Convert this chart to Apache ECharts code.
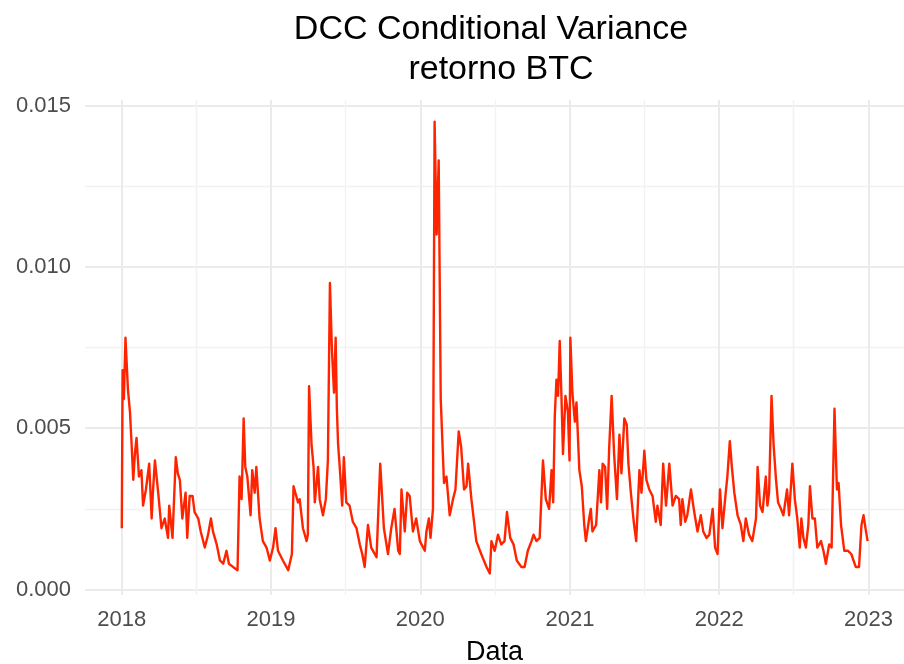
<!DOCTYPE html>
<html>
<head>
<meta charset="utf-8">
<title>DCC Conditional Variance - retorno BTC</title>
<script src="https://cdn.jsdelivr.net/npm/echarts@6/dist/echarts.min.js"></script>
<style>
  html, body { margin: 0; padding: 0; background: #ffffff; }
  #chart { width: 904px; height: 664px; }
</style>
</head>
<body>
<div id="chart"></div>
<script>
// Conditional variance of BTC returns from the DCC model
const dates = [
  '2018-01-01','2018-01-03','2018-01-06','2018-01-10','2018-01-13','2018-01-16','2018-01-21','2018-01-25','2018-01-29','2018-02-02',
  '2018-02-06','2018-02-12','2018-02-18','2018-02-22','2018-03-01','2018-03-09','2018-03-15','2018-03-18','2018-03-23','2018-03-31',
  '2018-04-08','2018-04-16','2018-04-24','2018-04-27','2018-05-05','2018-05-13','2018-05-18','2018-05-23','2018-05-29','2018-06-06',
  '2018-06-10','2018-06-16','2018-06-23','2018-06-28','2018-07-07','2018-07-13','2018-07-23','2018-07-31','2018-08-07','2018-08-12',
  '2018-08-21','2018-08-29','2018-09-06','2018-09-14','2018-09-20','2018-09-30','2018-10-11','2018-10-16','2018-10-21','2018-10-26',
  '2018-10-30','2018-11-04','2018-11-12','2018-11-16','2018-11-22','2018-11-26','2018-12-04','2018-12-12','2018-12-21','2018-12-29',
  '2019-01-06','2019-01-12','2019-01-18','2019-01-30','2019-02-12','2019-02-21','2019-02-25','2019-03-08','2019-03-12','2019-03-20',
  '2019-03-29','2019-04-01','2019-04-04','2019-04-10','2019-04-15','2019-04-18','2019-04-26','2019-04-30','2019-05-08','2019-05-15',
  '2019-05-20','2019-05-25','2019-05-30','2019-06-04','2019-06-08','2019-06-11','2019-06-14','2019-06-18','2019-06-24','2019-06-28',
  '2019-07-04','2019-07-12','2019-07-20','2019-07-29','2019-08-06','2019-08-12','2019-08-18','2019-08-26','2019-09-03','2019-09-16',
  '2019-09-25','2019-10-04','2019-10-14','2019-10-22','2019-10-30','2019-11-08','2019-11-12','2019-11-16','2019-11-24','2019-11-30',
  '2019-12-06','2019-12-14','2019-12-22','2019-12-31','2020-01-12','2020-01-16','2020-01-22','2020-01-26','2020-02-01','2020-02-05',
  '2020-02-10','2020-02-15','2020-02-20','2020-02-28','2020-03-05','2020-03-13','2020-03-21','2020-03-27','2020-04-04','2020-04-10',
  '2020-04-17','2020-04-23','2020-04-27','2020-05-05','2020-05-17','2020-05-29','2020-06-11','2020-06-19','2020-06-23','2020-07-01',
  '2020-07-09','2020-07-17','2020-07-25','2020-07-31','2020-08-08','2020-08-16','2020-08-24','2020-09-04','2020-09-12','2020-09-20',
  '2020-09-29','2020-10-04','2020-10-11','2020-10-19','2020-10-27','2020-11-03','2020-11-11','2020-11-17','2020-11-21','2020-11-25',
  '2020-11-29','2020-12-03','2020-12-07','2020-12-11','2020-12-15','2020-12-21','2020-12-27','2020-12-31','2021-01-02','2021-01-07',
  '2021-01-13','2021-01-17','2021-01-24','2021-01-30','2021-02-05','2021-02-09','2021-02-17','2021-02-21','2021-02-25','2021-03-06',
  '2021-03-14','2021-03-18','2021-03-22','2021-03-28','2021-04-02','2021-04-07','2021-04-13','2021-04-19','2021-04-26','2021-05-02',
  '2021-05-07','2021-05-14','2021-05-20','2021-05-24','2021-05-30','2021-06-06','2021-06-12','2021-06-20','2021-06-25','2021-07-02',
  '2021-07-07','2021-07-14','2021-07-22','2021-07-30','2021-08-03','2021-08-11','2021-08-17','2021-08-24','2021-09-01','2021-09-09',
  '2021-09-17','2021-09-25','2021-09-29','2021-10-03','2021-10-10','2021-10-15','2021-10-24','2021-11-01','2021-11-09','2021-11-17',
  '2021-11-23','2021-12-01','2021-12-08','2021-12-16','2021-12-22','2021-12-28','2022-01-03','2022-01-09','2022-01-17','2022-01-21',
  '2022-01-27','2022-02-01','2022-02-07','2022-02-15','2022-02-23','2022-03-01','2022-03-07','2022-03-15','2022-03-23','2022-04-01',
  '2022-04-05','2022-04-11','2022-04-17','2022-04-25','2022-04-29','2022-05-03','2022-05-09','2022-05-14','2022-05-20','2022-05-25',
  '2022-06-01','2022-06-07','2022-06-16','2022-06-21','2022-06-29','2022-07-05','2022-07-11','2022-07-17','2022-07-21','2022-07-26',
  '2022-08-01','2022-08-07','2022-08-11','2022-08-17','2022-08-23','2022-08-29','2022-09-07','2022-09-13','2022-09-19','2022-09-27',
  '2022-10-03','2022-10-10','2022-10-16','2022-10-20','2022-10-26','2022-11-03','2022-11-12','2022-11-20','2022-12-01','2022-12-09',
  '2022-12-15','2022-12-20','2022-12-26','2022-12-30'
];

const variance = [
  0.0019,0.0068,0.0059,0.0078,0.0070,0.0062,0.0055,0.0045,0.0034,0.0042,
  0.0047,0.0035,0.0037,0.0026,0.0031,0.0039,0.0022,0.0030,0.0040,0.0030,
  0.0019,0.0022,0.0016,0.0026,0.0016,0.0041,0.0036,0.0034,0.0022,0.0030,
  0.0016,0.0029,0.0029,0.0024,0.0022,0.0018,0.0013,0.0017,0.0022,0.0018,
  0.0014,0.0009,0.0008,0.0012,0.0008,0.0007,0.0006,0.0035,0.0028,0.0053,
  0.0038,0.0035,0.0023,0.0037,0.0030,0.0038,0.0022,0.0015,0.0013,0.0009,
  0.0013,0.0019,0.0012,0.0009,0.0006,0.0011,0.0032,0.0027,0.0028,0.0019,
  0.0015,0.0017,0.0063,0.0045,0.0038,0.0027,0.0038,0.0028,0.0023,0.0028,
  0.0040,0.0095,0.0074,0.0061,0.0078,0.0056,0.0045,0.0038,0.0026,0.0041,
  0.0027,0.0026,0.0021,0.0019,0.0014,0.0011,0.0007,0.0020,0.0013,0.0010,
  0.0039,0.0019,0.0011,0.0019,0.0025,0.0012,0.0011,0.0031,0.0018,0.0030,
  0.0029,0.0018,0.0022,0.0015,0.0012,0.0018,0.0022,0.0016,0.0025,0.0145,
  0.0110,0.0133,0.0059,0.0033,0.0035,0.0023,0.0028,0.0031,0.0049,0.0044,
  0.0031,0.0032,0.0039,0.0028,0.0015,0.0011,0.0007,0.0005,0.0015,0.0012,
  0.0017,0.0014,0.0015,0.0024,0.0016,0.0014,0.0009,0.0007,0.0007,0.0012,
  0.0015,0.0017,0.0015,0.0016,0.0040,0.0028,0.0025,0.0037,0.0027,0.0054,
  0.0065,0.0060,0.0077,0.0061,0.0042,0.0060,0.0055,0.0040,0.0078,0.0061,
  0.0052,0.0058,0.0037,0.0032,0.0020,0.0015,0.0022,0.0025,0.0018,0.0020,
  0.0037,0.0027,0.0039,0.0038,0.0025,0.0044,0.0060,0.0042,0.0028,0.0048,
  0.0036,0.0053,0.0051,0.0039,0.0030,0.0021,0.0015,0.0037,0.0030,0.0043,
  0.0034,0.0031,0.0029,0.0021,0.0026,0.0020,0.0039,0.0026,0.0039,0.0026,
  0.0029,0.0028,0.0020,0.0028,0.0021,0.0023,0.0031,0.0024,0.0018,0.0023,
  0.0018,0.0016,0.0017,0.0025,0.0013,0.0011,0.0031,0.0019,0.0030,0.0035,
  0.0046,0.0038,0.0030,0.0023,0.0020,0.0015,0.0022,0.0017,0.0015,0.0022,
  0.0038,0.0026,0.0024,0.0035,0.0026,0.0030,0.0060,0.0045,0.0034,0.0027,
  0.0025,0.0023,0.0031,0.0023,0.0039,0.0028,0.0022,0.0013,0.0022,0.0016,
  0.0013,0.0020,0.0032,0.0022,0.0022,0.0013,0.0015,0.0012,0.0008,0.0014,
  0.0013,0.0056,0.0031,0.0033,0.0020,0.0012,0.0012,0.0011,0.0007,0.0007,
  0.0020,0.0023,0.0018,0.0015
];

// Axis breaks
const yearTicks = ['2018-01-01','2019-01-01','2020-01-01','2021-01-01','2022-01-01','2023-01-01'];
const halfYearTicks = ['2018-07-02','2019-07-02','2020-07-02','2021-07-02','2022-07-02'];
const yTicks = [0, 0.005, 0.010, 0.015];
const yMinorTicks = [0.0025, 0.0075, 0.0125];

const toTime = s => echarts.time.parse(s).getTime();

const X_MIN = toTime('2017-10-03');
const X_MAX = toTime('2023-03-29');
const Y_MIN = -0.00017;
const Y_MAX = 0.01517;

const MAJOR_GRID = { color: '#EBEBEB', width: 2 };
const MINOR_GRID = { color: '#F2F2F2', width: 1.4 };
const TICK_TEXT = { color: '#4D4D4D', fontSize: 22, fontFamily: 'Liberation Sans, Arial, sans-serif' };

const chart = echarts.init(document.getElementById('chart'), null, { renderer: 'canvas' });

chart.setOption({
  backgroundColor: '#ffffff',
  animation: false,
  title: [
    {
      text: 'DCC Conditional Variance',
      left: 491, top: 13, textAlign: 'center', padding: 0,
      textStyle: { fontSize: 34, fontWeight: 'normal', color: '#000000', fontFamily: 'Liberation Sans, Arial, sans-serif' }
    },
    {
      text: 'retorno BTC',
      left: 501, top: 53, textAlign: 'center', padding: 0,
      textStyle: { fontSize: 34, fontWeight: 'normal', color: '#000000', fontFamily: 'Liberation Sans, Arial, sans-serif' }
    }
  ],
  grid: { left: 85, right: 0, top: 100, bottom: 69, containLabel: false, outerBoundsMode: 'none' },
  xAxis: [
    {
      type: 'time', min: X_MIN, max: X_MAX,
      name: 'Data', nameLocation: 'middle', nameGap: 44,
      nameTextStyle: { fontSize: 27, color: '#000000', fontFamily: 'Liberation Sans, Arial, sans-serif' },
      axisLine: { show: false },
      axisTick: { show: false, customValues: yearTicks.map(toTime) },
      axisLabel: Object.assign({ customValues: yearTicks.map(toTime), formatter: '{yyyy}', margin: 14, hideOverlap: false, showMinLabel: true, showMaxLabel: true }, TICK_TEXT),
      splitLine: { show: true, lineStyle: MAJOR_GRID }
    },
    {
      type: 'time', min: X_MIN, max: X_MAX, position: 'bottom',
      axisLine: { show: false },
      axisTick: { show: false, customValues: halfYearTicks.map(toTime) },
      axisLabel: { show: false, customValues: halfYearTicks.map(toTime) },
      splitLine: { show: true, lineStyle: MINOR_GRID }
    }
  ],
  yAxis: [
    {
      type: 'value', min: Y_MIN, max: Y_MAX,
      axisLine: { show: false },
      axisTick: { show: false, customValues: yTicks },
      axisLabel: Object.assign({ customValues: yTicks, formatter: v => v.toFixed(3), margin: 14 }, TICK_TEXT),
      splitLine: { show: true, lineStyle: MAJOR_GRID }
    },
    {
      type: 'value', min: Y_MIN, max: Y_MAX, position: 'left',
      axisLine: { show: false },
      axisTick: { show: false, customValues: yMinorTicks },
      axisLabel: { show: false, customValues: yMinorTicks },
      splitLine: { show: true, lineStyle: MINOR_GRID }
    }
  ],
  series: [
    {
      type: 'line',
      xAxisIndex: 0, yAxisIndex: 0,
      data: dates.map((d, i) => [d, variance[i]]),
      showSymbol: false,
      symbol: 'none',
      lineStyle: { color: '#FF2400', width: 2.4, join: 'round' },
      itemStyle: { color: '#FF2400' },
      z: 10
    }
  ]
});
</script>
</body>
</html>
